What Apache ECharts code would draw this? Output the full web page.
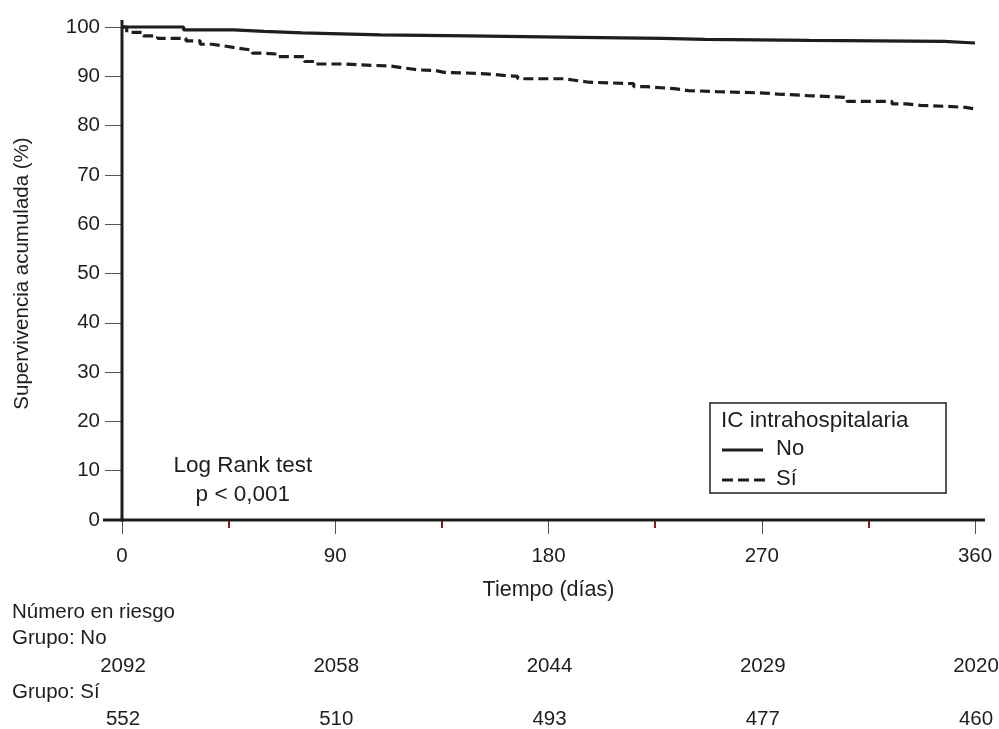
<!DOCTYPE html>
<html>
<head>
<meta charset="utf-8">
<script src="https://cdn.jsdelivr.net/npm/echarts@6/dist/echarts.min.js"></script>
<style>
  html, body { margin: 0; padding: 0; background: #fff; }
  #chart { width: 999px; height: 729px; }
</style>
</head>
<body>
<div id="chart"></div>
<script>
// Kaplan-Meier survival by in-hospital heart failure (step points: day, % surviving)
const noDays = [0, 26, 47, 60, 76, 109, 146, 193, 228, 246, 290, 347, 360];
const noSurv = [100, 99.4, 99.1, 98.8, 98.4, 98.2, 97.9, 97.7, 97.5, 97.3, 97.1, 96.75, 96.75];
const siDays = [0, 2, 9, 15, 27, 33, 38, 44, 49, 55, 60, 66, 77, 82, 94, 101, 113, 119, 125, 132, 136, 144, 155, 161, 167, 186, 191, 197, 216, 221, 233, 239, 251, 271, 277, 289, 306, 325, 331, 337, 348, 356, 360];
const siSurv = [100, 98.9, 98.2, 97.7, 97.2, 96.5, 96.1, 95.7, 95.3, 94.7, 94.5, 94.0, 93.0, 92.5, 92.3, 92.1, 91.7, 91.3, 91.2, 90.8, 90.7, 90.45, 90.2, 90.0, 89.5, 89.2, 88.8, 88.5, 87.9, 87.5, 87.1, 86.9, 86.6, 86.4, 86.1, 85.7, 84.9, 84.4, 84.1, 83.9, 83.7, 83.4, 83.4];

// Number at risk table
const riskTimes = [0, 90, 180, 270, 360];
const riskNo = [2092, 2058, 2044, 2029, 2020];
const riskSi = [552, 510, 493, 477, 460];

const groupNames = ['No', 'Sí'];
const FONT = "'Liberation Sans', Arial, Helvetica, sans-serif";
const INK = '#1e1e1e';

const chart = echarts.init(document.getElementById('chart'), null, { renderer: 'canvas' });

const zip = (xs, ys) => xs.map((x, i) => [x, ys[i]]);

chart.setOption({
  animation: false,
  backgroundColor: '#ffffff',
  textStyle: { fontFamily: FONT, color: INK },
  grid: { left: 122, right: 24, top: 27, bottom: 209, containLabel: false, outerBoundsMode: 'none' },
  xAxis: {
    type: 'value', min: 0, max: 360, interval: 90,
    name: 'Tiempo (días)', nameLocation: 'middle', nameGap: 59,
    nameTextStyle: { fontFamily: FONT, fontSize: 21.5, color: INK },
    axisLine: { show: false },
    axisTick: { show: true, length: 14, lineStyle: { color: '#555', width: 1 } },
    minorTick: { show: true, splitNumber: 2, length: 8, lineStyle: { color: '#8e1b1b', width: 2 } },
    axisLabel: { fontFamily: FONT, fontSize: 20.5, color: INK, margin: 26 },
    splitLine: { show: false }
  },
  yAxis: {
    type: 'value', min: 0, max: 100, interval: 10,
    name: 'Supervivencia acumulada (%)', nameLocation: 'middle', nameGap: 89,
    nameRotate: 90,
    nameTextStyle: { fontFamily: FONT, fontSize: 20.5, color: INK },
    axisLine: { show: false },
    axisTick: { show: true, length: 17, lineStyle: { color: '#555', width: 1 } },
    axisLabel: { fontFamily: FONT, fontSize: 20.5, color: INK, margin: 22 },
    splitLine: { show: false }
  },
  series: [
    {
      name: groupNames[0], type: 'line', step: 'end', showSymbol: false, clip: false,
      data: zip(noDays, noSurv),
      lineStyle: { color: INK, width: 3.2, type: 'solid' }
    },
    {
      name: groupNames[1], type: 'line', step: 'end', showSymbol: false, clip: false,
      data: zip(siDays, siSurv),
      lineStyle: { color: INK, width: 3.2, type: [10, 5] }
    }
  ]
});

// Axis frame lines, annotation, legend box and at-risk table placed from the axis scales
const px = (x, y) => chart.convertToPixel({ gridIndex: 0 }, [x, y]);
const pOrigin = px(0, 0);
const pTop = px(0, 100);
const pRight = px(360, 0);

const graphics = [];
graphics.push({
  type: 'line', z: 10,
  shape: { x1: pOrigin[0] - 19, y1: pOrigin[1], x2: pRight[0] + 10, y2: pRight[1] },
  style: { stroke: INK, lineWidth: 3 }
});
graphics.push({
  type: 'line', z: 10,
  shape: { x1: pOrigin[0], y1: pTop[1] - 7, x2: pOrigin[0], y2: pOrigin[1] + 1.5 },
  style: { stroke: INK, lineWidth: 3 }
});

// Log-rank annotation
const lr = px(51, 8);
graphics.push({
  type: 'text', z: 10, x: lr[0], y: lr[1] - 15,
  style: { text: 'Log Rank test', fontFamily: FONT, fontSize: 22.5, fill: INK, align: 'center', verticalAlign: 'middle' }
});
graphics.push({
  type: 'text', z: 10, x: lr[0], y: lr[1] + 14,
  style: { text: 'p < 0,001', fontFamily: FONT, fontSize: 22.5, fill: INK, align: 'center', verticalAlign: 'middle' }
});

// Legend box
const lgX = 710, lgY = 403, lgW = 236, lgH = 90;
graphics.push({
  type: 'rect', z: 10,
  shape: { x: lgX, y: lgY, width: lgW, height: lgH },
  style: { fill: '#fff', stroke: INK, lineWidth: 1.5 }
});
graphics.push({
  type: 'text', z: 11, x: lgX + 11, y: lgY + 18,
  style: { text: 'IC intrahospitalaria', fontFamily: FONT, fontSize: 22.5, fill: INK, verticalAlign: 'middle' }
});
graphics.push({
  type: 'line', z: 11,
  shape: { x1: lgX + 12, y1: lgY + 47, x2: lgX + 53, y2: lgY + 47 },
  style: { stroke: INK, lineWidth: 3 }
});
graphics.push({
  type: 'text', z: 11, x: lgX + 66, y: lgY + 46,
  style: { text: groupNames[0], fontFamily: FONT, fontSize: 22, fill: INK, verticalAlign: 'middle' }
});
graphics.push({
  type: 'line', z: 11,
  shape: { x1: lgX + 12, y1: lgY + 77, x2: lgX + 56, y2: lgY + 77 },
  style: { stroke: INK, lineWidth: 3, lineDash: [11, 5] }
});
graphics.push({
  type: 'text', z: 11, x: lgX + 66, y: lgY + 76,
  style: { text: groupNames[1], fontFamily: FONT, fontSize: 22, fill: INK, verticalAlign: 'middle' }
});

// At-risk table
const rowText = (txt, y) => graphics.push({
  type: 'text', z: 10, x: 12, y: y,
  style: { text: txt, fontFamily: FONT, fontSize: 20.5, fill: INK, verticalAlign: 'middle' }
});
rowText('Número en riesgo', 612);
rowText('Grupo: ' + groupNames[0], 638);
rowText('Grupo: ' + groupNames[1], 692);
riskTimes.forEach((t, i) => {
  const p = px(t, 0);
  graphics.push({
    type: 'text', z: 10, x: p[0] + 1, y: 666,
    style: { text: String(riskNo[i]), fontFamily: FONT, fontSize: 20.5, fill: INK, align: 'center', verticalAlign: 'middle' }
  });
  graphics.push({
    type: 'text', z: 10, x: p[0] + 1, y: 719,
    style: { text: String(riskSi[i]), fontFamily: FONT, fontSize: 20.5, fill: INK, align: 'center', verticalAlign: 'middle' }
  });
});

chart.setOption({ graphic: graphics });
</script>
</body>
</html>
